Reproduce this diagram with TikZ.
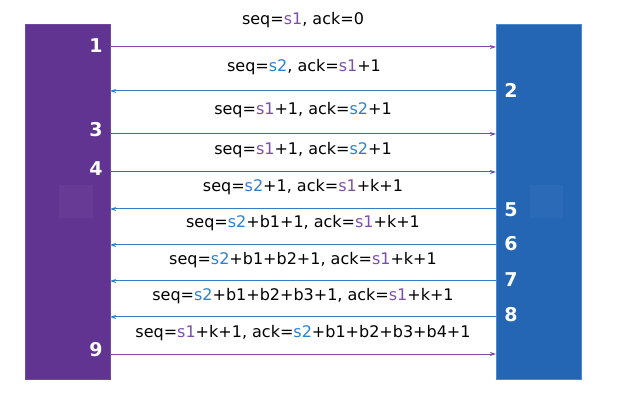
\documentclass[tikz,border=0pt]{standalone}
\usepackage{fontspec}
\setmainfont{DejaVu Sans}
\usetikzlibrary{arrows.meta}
\definecolor{barP}{HTML}{623492}
\definecolor{barPedge}{HTML}{7048A0}
\definecolor{barB}{HTML}{2566B4}
\definecolor{barBedge}{HTML}{4A8AD0}
\definecolor{txtP}{HTML}{7E4EAB}
\definecolor{txtB}{HTML}{2F80CC}
\definecolor{arrP}{HTML}{7A4BAA}
\definecolor{arrB}{HTML}{3A7CC2}
\begin{document}
\begin{tikzpicture}[x=1pt,y=-1pt,
  bar/.style={rectangle,minimum width=85pt,minimum height=355pt,inner sep=0pt,outer sep=0pt,line width=0.8pt},
  num/.style={text=white,font=\fontsize{19}{19}\selectfont\bfseries,inner sep=0pt},
  lbl/.style={font=\fontsize{16}{17}\selectfont,inner sep=0pt},
  parr/.style={draw=arrP,line width=1pt,-{Stealth[length=6pt,width=4pt]}},
  barr/.style={draw=arrB,line width=1pt,-{Stealth[length=6pt,width=4pt]}}]
\useasboundingbox (0,0) rectangle (618,411);
\node[bar,fill=barP,draw=barPedge] (L) at (67.5,201.5) {};
\node[bar,fill=barB,draw=barBedge] (R) at (538.5,201.5) {};
\fill[white,opacity=0.03] (59,185) rectangle (93,218);
\fill[white,opacity=0.03] (530,185) rectangle (563,218);
% numbers
\node[num] (n1) at (96,46) {1};
\node[num] (n3) at (96,130) {3};
\node[num] (n4) at (96,169) {4};
\node[num] (n9) at (96,350) {9};
\node[num] (n2) at (511,90) {2};
\node[num] (n5) at (511,210) {5};
\node[num] (n6) at (511,244) {6};
\node[num] (n7) at (511,280) {7};
\node[num] (n8) at (511,315) {8};
% arrows
\coordinate (y1) at (0,47);
\coordinate (y2) at (0,91);
\coordinate (y3) at (0,134);
\coordinate (y4) at (0,172);
\coordinate (y5) at (0,209);
\coordinate (y6) at (0,245);
\coordinate (y7) at (0,281);
\coordinate (y8) at (0,317);
\coordinate (y9) at (0,354);
\draw[parr] (L.east |- y1) -- (R.west |- y1);
\draw[barr] (R.west |- y2) -- (L.east |- y2);
\draw[parr] (L.east |- y3) -- (R.west |- y3);
\draw[parr] (L.east |- y4) -- (R.west |- y4);
\draw[barr] (R.west |- y5) -- (L.east |- y5);
\draw[barr] (R.west |- y6) -- (L.east |- y6);
\draw[barr] (R.west |- y7) -- (L.east |- y7);
\draw[barr] (R.west |- y8) -- (L.east |- y8);
\draw[parr] (L.east |- y9) -- (R.west |- y9);
% labels
\newcommand{\sA}{\textcolor{txtP}{s1}}
\newcommand{\sB}{\textcolor{txtB}{s2}}
\node[lbl] (t1) at (303,20) {seq=\sA, ack=0};
\node[lbl] (t2) at (304,67) {seq=\sB, ack=\sA+1};
\node[lbl] (t3) at (303,110) {seq=\sA+1, ack=\sB+1};
\node[lbl] (t4) at (303,150) {seq=\sA+1, ack=\sB+1};
\node[lbl] (t5) at (303,187) {seq=\sB+1, ack=\sA+k+1};
\node[lbl] (t6) at (303,223) {seq=\sB+b1+1, ack=\sA+k+1};
\node[lbl] (t7) at (303,260) {seq=\sB+b1+b2+1, ack=\sA+k+1};
\node[lbl] (t8) at (303,296) {seq=\sB+b1+b2+b3+1, ack=\sA+k+1};
\node[lbl] (t9) at (303,333) {seq=\sA+k+1, ack=\sB+b1+b2+b3+b4+1};
\end{tikzpicture}
\end{document}
